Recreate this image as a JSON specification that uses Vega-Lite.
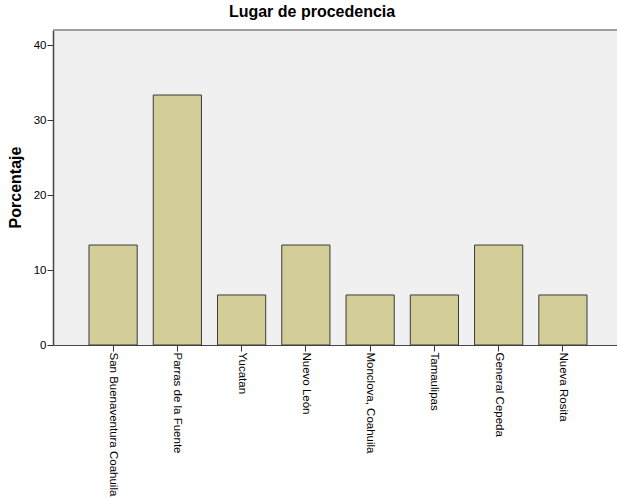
{
  "$schema": "https://vega.github.io/schema/vega-lite/v6.json",
  "autosize": "none",
  "width": 570,
  "height": 315,
  "padding": {"left": 53, "top": 30, "right": 0, "bottom": 155},
  "background": "white",
  "config": {
    "font": "Liberation Sans",
    "view": {"fill": "#f0f0f0", "stroke": null}
  },
  "title": {
    "text": "Lugar de procedencia",
    "font": "Liberation Sans",
    "fontSize": 16,
    "fontWeight": "bold",
    "color": "#000000",
    "anchor": "middle",
    "dx": -26,
    "offset": 9
  },
  "data": {
    "values": [
      {"lugar": "San Buenaventura Coahuila", "porcentaje": 13.33},
      {"lugar": "Parras de la Fuente", "porcentaje": 33.33},
      {"lugar": "Yucatan", "porcentaje": 6.67},
      {"lugar": "Nuevo León", "porcentaje": 13.33},
      {"lugar": "Monclova, Coahuila", "porcentaje": 6.67},
      {"lugar": "Tamaulipas", "porcentaje": 6.67},
      {"lugar": "General Cepeda", "porcentaje": 13.33},
      {"lugar": "Nueva Rosita", "porcentaje": 6.67}
    ]
  },
  "layer": [
    {
      "mark": {"type": "rule", "color": "#a0a0a0", "strokeWidth": 2},
      "encoding": {"y": {"datum": 42, "type": "quantitative", "scale": {"domain": [0, 42]}}}
    },
    {
      "mark": {"type": "bar", "fill": "#d3ce97", "stroke": "#3a3a3a", "strokeWidth": 1},
      "encoding": {
        "x": {
          "field": "lugar",
          "type": "nominal",
          "sort": null,
          "scale": {"paddingInner": 0.25, "paddingOuter": 0.56},
          "axis": {
            "title": null,
            "labelAngle": 90,
            "labelFontSize": 11.5,
            "labelColor": "#000000",
            "labelPadding": 1,
            "tickSize": 6,
            "tickColor": "#333333",
            "domainColor": "#444444",
            "labelLimit": 300
          }
        },
        "y": {
          "field": "porcentaje",
          "type": "quantitative",
          "scale": {"domain": [0, 42], "nice": false},
          "axis": {
            "title": "Porcentaje",
            "titleFontSize": 16,
            "titleFontWeight": "bold",
            "titleColor": "#000000",
            "titleX": -38,
            "titleY": 157,
            "titleAngle": -90,
            "titleAlign": "center",
            "titleBaseline": "middle",
            "values": [0, 10, 20, 30, 40],
            "grid": false,
            "labelFontSize": 11.5,
            "labelColor": "#000000",
            "labelPadding": 1,
            "tickSize": 6,
            "tickColor": "#333333",
            "domainColor": "#444444",
            "domainWidth": 1.5
          }
        }
      }
    }
  ]
}
